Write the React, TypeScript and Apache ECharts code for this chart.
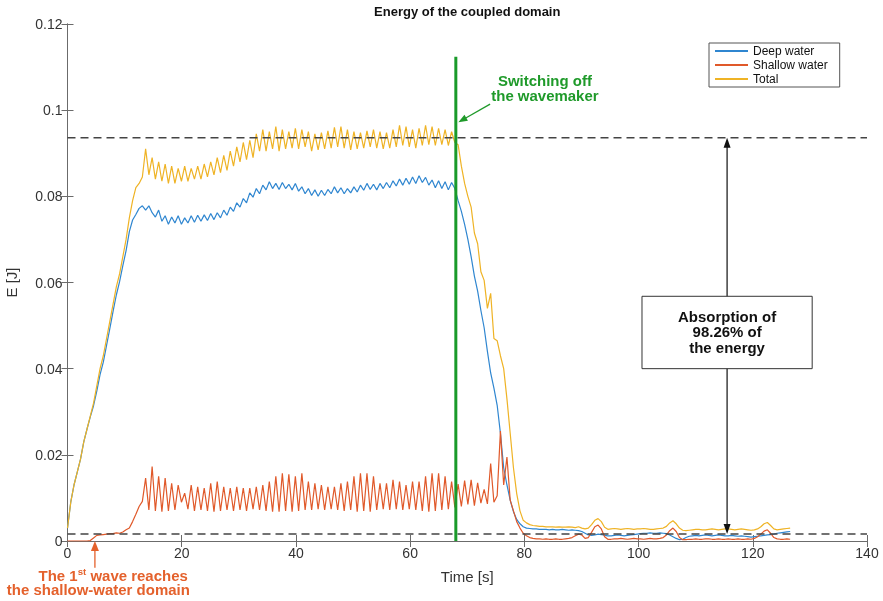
import React, { useEffect, useRef } from "react";
import * as echarts from "echarts";

// ---- sampling step of all three records (s) ----
const DT = 0.57;

// ---- Total energy ----
const TOTAL_RISE = [0.003,0.009,0.013,0.016,0.019,0.023,0.026,0.029,0.032,0.036,0.040,0.043,0.047,0.051,0.055,0.059,0.062,0.066,0.070,0.075,0.079,0.082];
const TOTAL_OSC = [
  0.083,0.0845,0.091,0.085,0.089,0.084,0.088,0.0835,0.0875,0.083,
  0.087,0.083,0.0865,0.0835,0.087,0.0835,0.0865,0.084,0.087,0.084,
  0.0875,0.0845,0.088,0.085,0.089,0.0855,0.0895,0.086,0.0905,0.087,
  0.0915,0.088,0.0925,0.0885,0.093,0.089,0.0945,0.0905,0.0955,0.0905,
  0.095,0.091,0.0962,0.0905,0.0955,0.091,0.095,0.0912,0.0958,0.091,
  0.0955,0.0915,0.095,0.0905,0.0945,0.0908,0.0948,0.091,0.0952,0.0912,
  0.096,0.0915,0.0962,0.0912,0.0955,0.0908,0.095,0.091,0.0948,0.0912,
  0.0952,0.0915,0.0955,0.0912,0.095,0.091,0.0948,0.0912,0.0955,0.0915,
  0.0965,0.0918,0.0962,0.0915,0.0955,0.0912,0.0958,0.0918,0.0965,0.092,
  0.0962,0.0918,0.0958,0.092,0.0955,0.0918,0.095,0.0925];
const TOTAL_DECAY = [0.092,0.087,0.083,0.080,0.0775,0.0715,0.069,0.0625,0.0605,0.054,0.0575,0.047,0.0465,0.043,0.040,0.033,0.025,0.017,0.011,0.007,0.0048];
const TOTAL_TAIL = [
  0.0042,0.0038,0.0036,0.0035,
  0.0034,0.0034,0.0033,0.0033,0.0033,0.0032,0.0033,0.0032,0.0032,0.0033,0.0032,
  0.0031,0.0033,0.0030,0.0028,0.0030,0.0038,0.0048,0.0052,0.0045,0.0032,0.0027,
  0.0028,0.0029,0.0028,0.0027,0.0028,0.0029,0.0028,0.0027,0.0028,0.0028,0.0029,0.0028,0.0027,0.0027,0.0028,0.0029,0.0030,0.0034,
  0.0042,0.0047,0.0040,0.0030,0.0025,
  0.0024,0.0025,0.0026,0.0027,0.0027,0.0026,0.0026,0.0027,0.0028,0.0027,0.0026,0.0027,0.0028,0.0028,0.0027,0.0026,0.0027,0.0028,0.0027,0.0026,0.0025,0.0026,0.0028,
  0.0033,0.0040,0.0043,0.0036,0.0028,0.0026,0.0027,0.0028,0.0029,0.0030];

// ---- Deep water energy ----
const DEEP_RISE = [0.003,0.009,0.013,0.016,0.019,0.023,0.026,0.0288,0.0314,0.0348,0.0386,0.0415,0.0454,0.0493,0.0533,0.0571,0.0602,0.0639,0.0674,0.0718,0.0745,0.0758];
const DEEP_OSC = [
  0.0772,0.0778,0.0768,0.0778,0.0762,0.0752,0.0768,0.0742,0.0755,0.0735,
  0.0752,0.0738,0.0755,0.0735,0.0750,0.0738,0.0755,0.0740,0.0756,0.0742,
  0.0757,0.0744,0.0760,0.0746,0.0762,0.0750,0.0768,0.0756,0.0775,0.0765,
  0.0785,0.0775,0.0795,0.0785,0.0808,0.0798,0.0818,0.0806,0.0826,0.0815,
  0.0834,0.0818,0.0830,0.0816,0.0832,0.0818,0.0828,0.0815,0.0830,0.0812,
  0.0822,0.0806,0.0818,0.0802,0.0815,0.0800,0.0814,0.0802,0.0816,0.0806,
  0.0822,0.0808,0.0820,0.0806,0.0818,0.0808,0.0822,0.0810,0.0826,0.0814,
  0.0830,0.0816,0.0828,0.0815,0.0830,0.0818,0.0832,0.0820,0.0836,0.0824,
  0.0840,0.0826,0.0842,0.0828,0.0845,0.0830,0.0848,0.0832,0.0844,0.0826,
  0.0838,0.0820,0.0836,0.0818,0.0834,0.0815,0.0832,0.0818];
const DEEP_DECAY = [0.0790,0.0765,0.0735,0.0700,0.0660,0.0615,0.0580,0.0535,0.0495,0.0440,0.0390,0.0355,0.0315,0.0250,0.0170,0.0130,0.0095,0.0068,0.0050,0.0040,0.0033];
const DEEP_TAIL = [
  0.0030,0.0029,0.0028,
  0.0028,0.0027,0.0027,0.0027,0.0026,0.0027,0.0026,0.0026,0.0027,0.0026,0.0025,0.0026,0.0025,0.0024,
  0.0022,0.0018,0.0014,0.0013,
  0.0014,0.0016,0.0015,0.0013,0.0012,0.0012,0.0013,0.0014,0.0013,0.0012,0.0013,0.0014,0.0015,0.0016,
  0.0017,0.0018,0.0018,0.0019,0.0018,0.0018,0.0019,0.0018,0.0017,
  0.0014,0.0010,0.0006,0.0003,0.0004,0.0008,0.0011,
  0.0012,0.0013,0.0012,0.0013,0.0014,0.0013,0.0012,0.0013,0.0014,0.0013,0.0012,0.0012,0.0013,0.0012,0.0011,0.0012,0.0011,0.0010,0.0009,0.0010,0.0011,
  0.0012,0.0013,0.0014,0.0015,0.0016,0.0018,0.0019,0.0020,0.0021,0.0022];

// ---- Shallow water energy ----
const SHALLOW_RISE = [0,0,0,0,0,0,0,0.0001,0.0007,0.0013,0.0014,0.0015,0.0016,0.0017,0.0017,0.0019,0.0018,0.0021,0.0026,0.0030,0.0045,0.0062];
const SHALLOW_OSC = [
  0.0080,0.0092,0.0146,0.0072,0.0173,0.0070,0.0150,0.0068,0.0146,0.0070,
  0.0134,0.0072,0.0130,0.0090,0.0111,0.0074,0.0130,0.0070,0.0126,0.0072,
  0.0123,0.0070,0.0134,0.0068,0.0138,0.0070,0.0126,0.0072,0.0123,0.0070,
  0.0126,0.0072,0.0123,0.0070,0.0123,0.0074,0.0126,0.0072,0.0130,0.0070,
  0.0138,0.0068,0.0150,0.0068,0.0157,0.0070,0.0155,0.0068,0.0150,0.0070,
  0.0157,0.0072,0.0138,0.0072,0.0134,0.0074,0.0130,0.0072,0.0126,0.0074,
  0.0126,0.0072,0.0134,0.0070,0.0138,0.0072,0.0150,0.0068,0.0157,0.0070,
  0.0157,0.0068,0.0150,0.0072,0.0134,0.0074,0.0134,0.0072,0.0142,0.0074,
  0.0138,0.0072,0.0130,0.0074,0.0138,0.0072,0.0138,0.0070,0.0150,0.0068,
  0.0157,0.0070,0.0157,0.0072,0.0150,0.0074,0.0138,0.0078];
const SHALLOW_DECAY = [0.0132,0.0080,0.0140,0.0085,0.0142,0.0082,0.0135,0.0088,0.0120,0.0086,0.0180,0.0090,0.0105,0.0255,0.0130,0.0195,0.0095,0.0070,0.0045,0.0030,0.0018];
const SHALLOW_TAIL = [
  0.0012,0.0008,0.0006,
  0.0005,0.0005,0.0004,0.0005,0.0004,0.0004,0.0005,0.0004,0.0004,0.0005,0.0006,0.0008,
  0.0012,0.0016,0.0014,0.0006,0.0008,0.0020,0.0033,0.0037,0.0028,0.0010,0.0004,
  0.0004,0.0005,0.0005,0.0006,0.0005,0.0004,0.0005,0.0006,0.0005,0.0005,0.0004,0.0005,0.0006,0.0005,0.0005,0.0006,0.0008,0.0014,
  0.0024,0.0030,0.0022,0.0008,0.0003,
  0.0003,0.0004,0.0004,0.0005,0.0004,0.0004,0.0005,0.0005,0.0004,0.0004,0.0005,0.0004,0.0004,0.0005,0.0004,0.0004,0.0005,0.0004,0.0004,0.0005,0.0004,0.0006,0.0010,
  0.0016,0.0023,0.0026,0.0018,0.0008,0.0005,0.0004,0.0004,0.0005,0.0004];

const TOTAL = [...TOTAL_RISE, ...TOTAL_OSC, ...TOTAL_DECAY, ...TOTAL_TAIL];
const DEEP = [...DEEP_RISE, ...DEEP_OSC, ...DEEP_DECAY, ...DEEP_TAIL];
const SHALLOW = [...SHALLOW_RISE, ...SHALLOW_OSC, ...SHALLOW_DECAY, ...SHALLOW_TAIL];

// ---- reference levels / events ----
const UPPER_LEVEL = 0.0936;
const LOWER_LEVEL = 0.00163;
const T_SWITCH_OFF = 68;
const SWITCH_LINE_TOP = 0.1124;
const T_ABSORB_ARROW = 115.5;
const T_FIRST_WAVE = 4.8;

// ---- axes ----
const X_MIN = 0, X_MAX = 140, X_STEP = 20;
const Y_MIN = 0, Y_MAX = 0.12, Y_STEP = 0.02;

// ---- texts ----
const TITLE = "Energy of the coupled domain";
const X_NAME = "Time [s]";
const Y_NAME = "E [J]";
const NAMES = ["Deep water", "Shallow water", "Total"];
const COLORS = ["#2f86d0", "#e0592a", "#efb325"];
const GREEN_LINES = ["Switching off", "the wavemaker"];
const BOX_LINES = ["Absorption of", "98.26% of", "the energy"];
const ORANGE_LINE1 = "The 1{sup|st} wave reaches";
const ORANGE_LINE2 = "the shallow-water domain";

const FONT = "'Liberation Sans', Arial, Helvetica, sans-serif";

const toPairs = (arr: number[]) => arr.map((v, i) => [+(i * DT).toFixed(2), v]);

export default function App() {
  const ref = useRef<HTMLDivElement>(null);
  useEffect(() => {
    const chart = echarts.init(ref.current!, null, { renderer: "svg" });
    const axisLine = { show: true, lineStyle: { color: "#6b6b6b", width: 1 } };
    const axisTick = { show: true, inside: true, length: 6, lineStyle: { color: "#6b6b6b" } };
    const labelStyle = { color: "#333", fontSize: 14, fontFamily: FONT };
    const base: any = {
      animation: false,
      grid: { left: 67.5, right: 16, top: 24, bottom: 60, containLabel: false, outerBoundsMode: "none" },
      legend: {
        data: NAMES,
        orient: "vertical",
        left: 709,
        top: 43,
        itemWidth: 33,
        itemHeight: 2,
        itemGap: 0,
        icon: "rect",
        borderColor: "#555",
        borderWidth: 1,
        padding: [1, 12, 1, 6],
        backgroundColor: "#fff",
        selectedMode: false,
        textStyle: { fontSize: 12, color: "#111", fontFamily: FONT, lineHeight: 14 },
      },
      xAxis: [
        {
          type: "value", min: X_MIN, max: X_MAX, interval: X_STEP, position: "bottom",
          axisLine, axisTick, splitLine: { show: false },
          axisLabel: { ...labelStyle, margin: 5 },
          name: X_NAME, nameLocation: "middle", nameGap: 28,
          nameTextStyle: { ...labelStyle, fontSize: 15 },
        },
        {
          type: "value", min: X_MIN, max: X_MAX, interval: X_STEP, position: "top",
          axisLine, axisTick, splitLine: { show: false }, axisLabel: { show: false },
        },
      ],
      yAxis: [
        {
          type: "value", min: Y_MIN, max: Y_MAX, interval: Y_STEP, position: "left",
          axisLine, axisTick, splitLine: { show: false },
          axisLabel: { ...labelStyle, margin: 5, formatter: (v: number) => String(+v.toFixed(2)) },
          name: Y_NAME, nameLocation: "middle", nameGap: 49,
          nameTextStyle: { ...labelStyle, fontSize: 15 },
        },
        {
          type: "value", min: Y_MIN, max: Y_MAX, interval: Y_STEP, position: "right",
          axisLine, axisTick, splitLine: { show: false }, axisLabel: { show: false },
        },
      ],
      series: [
        { name: NAMES[0], data: toPairs(DEEP), color: COLORS[0] },
        { name: NAMES[1], data: toPairs(SHALLOW), color: COLORS[1] },
        { name: NAMES[2], data: toPairs(TOTAL), color: COLORS[2] },
      ].map((s) => ({
        ...s, type: "line", xAxisIndex: 0, yAxisIndex: 0, showSymbol: false, symbol: "none",
        lineStyle: { width: 1.2, color: s.color }, silent: true,
      })).concat([
        {
          name: "upper", type: "line", xAxisIndex: 0, yAxisIndex: 0, symbol: "none", silent: true,
          data: [[X_MIN, UPPER_LEVEL], [X_MAX, UPPER_LEVEL]],
          lineStyle: { color: "#444", width: 1.3, type: [8, 5] }, color: "#444",
        } as any,
        {
          name: "lower", type: "line", xAxisIndex: 0, yAxisIndex: 0, symbol: "none", silent: true,
          data: [[X_MIN, LOWER_LEVEL], [X_MAX, LOWER_LEVEL]],
          lineStyle: { color: "#444", width: 1.3, type: [8, 5] }, color: "#444",
        },
        {
          name: "switch", type: "line", xAxisIndex: 0, yAxisIndex: 0, symbol: "none", silent: true,
          data: [[T_SWITCH_OFF, Y_MIN], [T_SWITCH_OFF, SWITCH_LINE_TOP]],
          lineStyle: { color: "#1a9a2a", width: 3 }, color: "#1a9a2a",
        },
      ]),
    };
    chart.setOption(base);

    const px = (p: number[]) =>
      chart.convertToPixel({ xAxisIndex: 0, yAxisIndex: 0 }, p) as number[];
    const head = (tip: number[], from: number[], len: number, half: number, color: string) => {
      const dx = tip[0] - from[0], dy = tip[1] - from[1];
      const d = Math.hypot(dx, dy) || 1;
      const ux = dx / d, uy = dy / d;
      const bx = tip[0] - ux * len, by = tip[1] - uy * len;
      return {
        type: "polygon", z: 50,
        shape: { points: [[tip[0], tip[1]], [bx - uy * half, by + ux * half], [bx + uy * half, by - ux * half]] },
        style: { fill: color },
      };
    };
    const shaft = (a: number[], b: number[], color: string, w: number) => ({
      type: "line", z: 50, shape: { x1: a[0], y1: a[1], x2: b[0], y2: b[1] },
      style: { stroke: color, lineWidth: w },
    });

    const plotL = px([X_MIN, Y_MIN]);
    const plotR = px([X_MAX, Y_MAX]);
    const cx = (plotL[0] + plotR[0]) / 2;

    // green annotation
    const gText = px([83.6, 0.105]);
    const gFrom = px([74.0, 0.1014]);
    const gTo = px([68.45, 0.0972]);
    // absorption arrow + box
    const aTop = px([T_ABSORB_ARROW, UPPER_LEVEL]);
    const aBot = px([T_ABSORB_ARROW, LOWER_LEVEL]);
    const boxTL = px([100.6, 0.0568]);
    const boxBR = px([130.4, 0.0400]);
    const boxText = px([T_ABSORB_ARROW, 0.0484]);
    // orange annotation
    const oTip = px([T_FIRST_WAVE, 0]);
    const oFrom = px([T_FIRST_WAVE, -0.0062]);
    const oLine1 = px([8.0, -0.0081]);
    const oLine2 = px([5.4, -0.0114]);

    const green = "#1f9a2a";
    const orange = "#e4612c";
    const vec = (a: number[], b: number[], len: number) => {
      const dx = b[0] - a[0], dy = b[1] - a[1];
      const d = Math.hypot(dx, dy) || 1;
      return [b[0] - (dx / d) * len, b[1] - (dy / d) * len];
    };
    const SX = 1.07;
    const boldText = (p: number[], text: string, fill: string, lineHeight: number, extra: any = {}) => ({
      type: "text", x: p[0], y: p[1], z: 60, scaleX: SX,
      style: { text, fontFamily: FONT, fontSize: 14, fontWeight: "bold", fill, align: "center", verticalAlign: "middle", lineHeight, ...extra },
    });

    const graphic: any[] = [
      {
        type: "text", x: cx, y: 11, z: 60,
        style: { text: TITLE, fontFamily: FONT, fontSize: 13, fontWeight: "bold", fill: "#111", align: "center", verticalAlign: "middle" },
      },
      boldText(gText, GREEN_LINES.join("\n"), green, 15),
      shaft(gFrom, vec(gFrom, gTo, 8), green, 1.3),
      head(gTo, gFrom, 9, 3.5, green),
      shaft(vec(aBot, aTop, 9), vec(aTop, aBot, 9), "#111", 1.2),
      head(aTop, aBot, 10, 3.5, "#111"),
      head(aBot, aTop, 10, 3.5, "#111"),
      {
        type: "rect", z: 55,
        shape: { x: boxTL[0], y: boxTL[1], width: boxBR[0] - boxTL[0], height: boxBR[1] - boxTL[1] },
        style: { fill: "#fff", stroke: "#333", lineWidth: 1 },
      },
      boldText(boxText, BOX_LINES.join("\n"), "#111", 15.5),
      shaft(oFrom, vec(oFrom, oTip, 8), orange, 1.3),
      head(oTip, oFrom, 10, 4, orange),
      boldText(oLine1, ORANGE_LINE1, orange, 16, {
        rich: { sup: { fontSize: 9, fontWeight: "bold", fill: orange, fontFamily: FONT, verticalAlign: "top", lineHeight: 10 } },
      }),
      boldText(oLine2, ORANGE_LINE2, orange, 15),
    ];
    chart.setOption({ graphic });
    return () => chart.dispose();
  }, []);
  return <div ref={ref} style={{ position: "fixed", left: 0, top: 0, width: 883, height: 601 }} />;
}
